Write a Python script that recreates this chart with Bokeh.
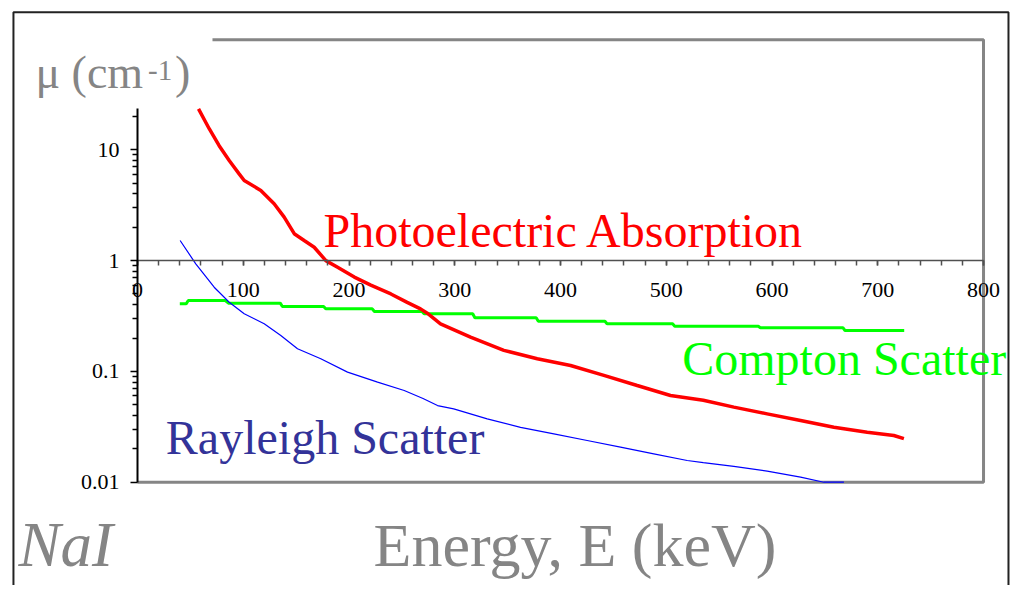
from bokeh.plotting import figure
from bokeh.models import (Range1d, FixedTicker, CustomJSTickFormatter, Label,
                          BoxAnnotation, PolyAnnotation)
from bokeh.embed import file_html
from bokeh.resources import INLINE

# ---------------- data ----------------
photo_E = [57.7, 67.8, 77.2, 86.7, 96.1, 100.9, 116.6, 129.2, 138.7, 148.2, 157.6,
           167.1, 178.1, 189.2, 205.0, 220.6, 239.6, 255.0, 267.6, 274.0, 286.5,
           314.9, 346.4, 378.0, 409.5, 441.0, 472.5, 504.0, 535.0, 563.9, 595.4,
           627.0, 658.5, 690.0, 715.2, 724.7]
photo_mu = [23.4, 15.5, 10.9, 8.0, 6.07, 5.28, 4.30, 3.26, 2.47, 1.75, 1.52,
            1.32, 1.00, 0.87, 0.71, 0.60, 0.50, 0.42, 0.367, 0.335, 0.269,
            0.204, 0.155, 0.130, 0.113, 0.092, 0.0746, 0.0606, 0.055, 0.0476, 0.0414,
            0.036, 0.0313, 0.0283, 0.0264, 0.0247]

compton_E = [40, 46, 48, 83, 86, 135, 137, 176, 178, 222, 224, 269, 271, 317, 319,
             377, 379, 442, 444, 506, 508, 587, 589, 667, 669, 725]
compton_mu = [0.407, 0.407, 0.436, 0.436, 0.413, 0.413, 0.385, 0.385, 0.367, 0.367,
              0.347, 0.347, 0.331, 0.331, 0.305, 0.305, 0.284, 0.284, 0.269, 0.269,
              0.256, 0.256, 0.248, 0.248, 0.234, 0.234]

rayleigh_E = [40.3, 55.1, 72.5, 86.7, 100.9, 119.8, 135.5, 151.3, 173.3, 198.6, 227.0,
              252.2, 270.0, 283.7, 299.0, 330.7, 362.2, 393.7, 425.2, 456.7, 488.2,
              519.8, 535.0, 563.9, 595.4, 627.0, 649.0, 668.0]
rayleigh_mu = [1.52, 0.935, 0.575, 0.421, 0.331, 0.269, 0.211, 0.160, 0.130, 0.0985, 0.080,
               0.0673, 0.057, 0.0492, 0.0459, 0.0373, 0.0313, 0.0273, 0.0238, 0.0207, 0.0180,
               0.0157, 0.0150, 0.0139, 0.0126, 0.0111, 0.0100, 0.0100]

x_ticks = list(range(0, 801, 100))
x_minor = list(range(0, 801, 20))
y_ticks = [0.01, 0.1, 1, 10]

# ---------------- figure ----------------
# The frame covers the whole canvas; axes are placed at fixed data locations
X0, X1 = 0, 800          # energy axis extent
Y0, YTOP = 0.01, 98.4    # chart box (bottom / top)
YAX_TOP = 23.6           # top of the drawn mu axis

p = figure(width=1012, height=585, title=None,
           x_range=Range1d(-129.55, 827.4), y_range=Range1d(0.001169, 222.6),
           y_axis_type="log", output_backend="svg", toolbar_location=None,
           min_border_left=0, min_border_right=0, min_border_top=0, min_border_bottom=0)
p.outline_line_color = None
p.background_fill_color = "white"
p.border_fill_color = "white"
p.xgrid.visible = False
p.ygrid.visible = False

SERIF = "Liberation Serif"
GRAY = "#858585"

# x axis crossing at mu = 1
xa = p.xaxis[0]
xa.fixed_location = 1
xa.bounds = (X0, X1)
xa.ticker = FixedTicker(ticks=x_ticks, minor_ticks=x_minor)
xa.axis_line_color = "#505050"
xa.axis_line_width = 1.5
xa.major_tick_line_color = "#505050"
xa.minor_tick_line_color = "#505050"
xa.major_tick_line_width = 1.5
xa.minor_tick_line_width = 1.5
xa.major_tick_in = 0
xa.major_tick_out = 5
xa.minor_tick_in = 0
xa.minor_tick_out = 5
xa.major_label_text_font = SERIF
xa.major_label_text_font_size = "22px"
xa.major_label_text_color = "black"
xa.major_label_standoff = 17

# y axis at E = 0
ya = p.yaxis[0]
ya.fixed_location = 0
ya.bounds = (Y0, YAX_TOP)
y_minor = [m * 10.0 ** e for e in (-2, -1, 0, 1) for m in range(2, 10) if m * 10.0 ** e <= YAX_TOP]
ya.ticker = FixedTicker(ticks=y_ticks, minor_ticks=y_minor)
ya.formatter = CustomJSTickFormatter(code="return tick.toString();")
ya.axis_line_color = "black"
ya.axis_line_width = 2
ya.major_tick_line_color = "black"
ya.minor_tick_line_color = "black"
ya.major_tick_line_width = 1.5
ya.minor_tick_line_width = 1.5
ya.major_tick_in = 0
ya.major_tick_out = 7
ya.minor_tick_in = 0
ya.minor_tick_out = 5
ya.major_label_text_font = SERIF
ya.major_label_text_font_size = "22px"
ya.major_label_text_color = "black"
ya.major_label_standoff = 11

# gray chart box (open at top-left where the unit label sits)
p.add_layout(PolyAnnotation(xs=[70.9, X1, X1, X0, X1, X1], ys=[YTOP, YTOP, Y0, Y0, Y0, YTOP],
                            fill_alpha=0, line_color=GRAY, line_alpha=1.0, line_width=3,
                            level="underlay"))
# outer black slide frame
p.add_layout(BoxAnnotation(left=-117.3, right=823.6, top=174.6, bottom=1e-4,
                           fill_alpha=0, line_color="#222222", line_alpha=1.0, line_width=2,
                           level="underlay"))

# curves
p.line(compton_E, compton_mu, line_color="#00ff00", line_width=3)
p.line(photo_E, photo_mu, line_color="#ff0000", line_width=3.5)
p.line(rayleigh_E, rayleigh_mu, line_color="#0000ff", line_width=1.2)

def lab(x, y, text, color, size, style="normal"):
    p.add_layout(Label(x=x, y=y, text=text, text_color=color, text_font=SERIF,
                       text_font_size=size, text_font_style=style,
                       text_align="left", text_baseline="alphabetic"))

lab(175.9, 1.889, "Photoelectric Absorption", "#ff0000", "48px")
lab(515.1, 0.1313, "Compton Scatter", "#00ff00", "48px")
lab(26.8, 0.02526, "Rayleigh Scatter", "#333399", "48px")
lab(223.2, 0.002734, "Energy, E (keV)", GRAY, "62px")
lab(-112.5, 0.002717, "NaI", GRAY, "63px", "italic")
lab(-96.5, 50.06, "\u03bc (cm", GRAY, "46px")
lab(10.0, 51.75, "-1", GRAY, "29px")
lab(35.5, 50.06, ")", GRAY, "46px")

open("out.html", "w").write(file_html(p, INLINE))
